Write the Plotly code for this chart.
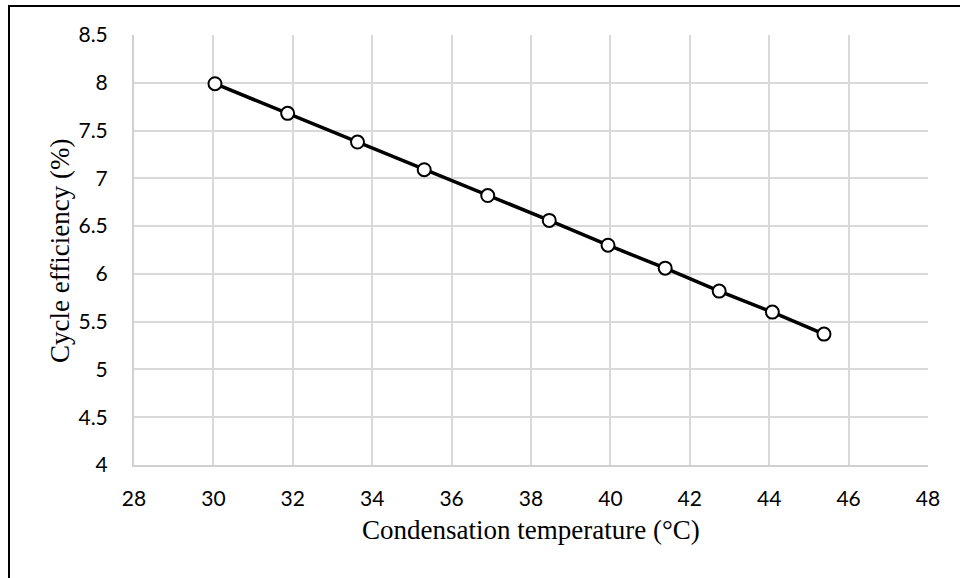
import plotly.graph_objects as go

# Data
cond_temp = [30.04, 31.87, 33.63, 35.31, 36.91, 38.46, 39.94, 41.38, 42.74, 44.08, 45.38]
cycle_eff = [7.99, 7.68, 7.38, 7.09, 6.82, 6.56, 6.30, 6.06, 5.82, 5.60, 5.37]

x_ticks = [28, 30, 32, 34, 36, 38, 40, 42, 44, 46, 48]
y_ticks = [4, 4.5, 5, 5.5, 6, 6.5, 7, 7.5, 8, 8.5]

x_title = "Condensation temperature (°C)"
y_title = "Cycle efficiency (%)"

W, H = 960, 578
L, R, T, B = 134, 32, 35, 113
pw, ph = W - L - R, H - T - B

def px_x(p):
    return (p - L) / pw

def px_y(p):
    return (H - B - p) / ph

fig = go.Figure()
fig.add_trace(go.Scatter(
    x=cond_temp, y=cycle_eff, mode="lines+markers",
    line=dict(color="black", width=3.5),
    marker=dict(size=13, color="white", line=dict(color="black", width=2)),
    showlegend=False, cliponaxis=False,
))

tick_font = dict(family="Lato, Open Sans, sans-serif", size=21, color="black")
title_font = dict(family="Liberation Serif, Times New Roman, serif", size=27, color="black")

fig.update_layout(
    width=W, height=H,
    margin=dict(l=L, r=R, t=T, b=B),
    paper_bgcolor="white", plot_bgcolor="white",
    xaxis=dict(
        range=[28, 48], tickvals=x_ticks, ticktext=[str(v) for v in x_ticks],
        showgrid=True, gridcolor="#d9d9d9", gridwidth=2,
        showline=True, linecolor="#d0d0d0", linewidth=2, mirror=False,
        zeroline=False, ticks="", tickfont=tick_font, ticklabelstandoff=14,
        automargin=False,
    ),
    yaxis=dict(
        range=[4, 8.5], tickvals=y_ticks, ticktext=[f"{v:g}" for v in y_ticks],
        showgrid=True, gridcolor="#d9d9d9", gridwidth=2,
        showline=True, linecolor="#d0d0d0", linewidth=2,
        zeroline=False, ticks="", tickfont=tick_font, ticklabelstandoff=20,
        automargin=False,
    ),
    annotations=[
        dict(text=x_title, xref="paper", yref="paper",
             x=px_x(531), y=px_y(530), xanchor="center", yanchor="middle",
             showarrow=False, font=title_font),
        dict(text=y_title, xref="paper", yref="paper", textangle=-90,
             x=px_x(60), y=px_y(251), xanchor="center", yanchor="middle",
             showarrow=False, font=title_font),
    ],
    shapes=[
        dict(type="rect", xref="paper", yref="paper",
             x0=px_x(9), x1=px_x(975), y0=px_y(6), y1=px_y(600),
             line=dict(color="black", width=2), fillcolor="rgba(0,0,0,0)",
             layer="above"),
    ],
)

fig.write_html("out.html")
